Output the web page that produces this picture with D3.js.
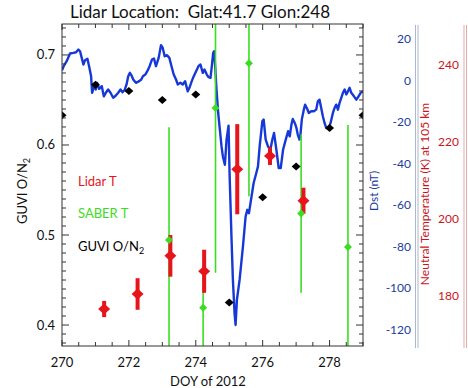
<!DOCTYPE html>
<html><head><meta charset="utf-8">
<script src="https://cdn.jsdelivr.net/npm/d3@7"></script>
<style>
body{margin:0;background:#fff;}
text{font-family:Lato,"Open Sans",sans-serif;}
</style></head>
<body><svg id="c" width="468" height="388"></svg>
<script>
// ---------- data ----------
const guviDays = [270,271,272,273,274,275,276,277,278,279];
const guviO2N2 = [0.633,0.667,0.660,0.650,0.656,0.425,0.542,0.576,0.619,0.633];

const saberDays = [273.2,274.22,274.59,275.59,277.15,278.55];
const saberT    = [194.6,177.0,228.9,240.5,201.5,192.8];
const saberErr  = [29.3,11.1,42.8,34.5,20.6,31.7];

const lidarDays = [271.26,272.26,273.24,274.25,275.24,276.22,277.22];
const lidarT    = [176.7,180.6,190.5,186.5,213.0,216.4,204.8];
const lidarErr  = [2.1,4.1,5.4,5.6,11.7,2.3,3.4];

const dstDays = [270.0,270.06,270.14,270.24,270.34,270.42,270.49,270.54,270.59,270.64,270.69,270.76,270.81,270.87,270.90,270.96,
271.01,271.05,271.11,271.19,271.25,271.31,271.38,271.45,271.53,271.61,271.68,271.75,271.81,271.88,271.93,271.98,
272.03,272.08,272.13,272.21,272.31,272.37,272.42,272.49,272.55,272.62,272.69,272.75,272.81,272.89,272.96,
273.01,273.07,273.14,273.21,273.26,273.34,273.41,273.46,273.54,273.61,273.68,273.76,273.81,273.88,273.94,
274.01,274.08,274.14,274.21,274.26,274.33,274.38,274.44,274.48,274.52,274.55,274.58,274.62,274.67,274.72,274.77,274.81,274.87,274.92,274.98,
275.01,275.07,275.11,275.16,275.19,275.23,275.31,275.41,275.49,275.54,275.59,275.66,275.73,275.81,275.86,275.91,275.99,
276.03,276.09,276.16,276.23,276.29,276.34,276.41,276.48,276.54,276.61,276.69,276.76,276.81,276.86,276.90,276.96,
277.01,277.05,277.10,277.13,277.17,277.23,277.27,277.33,277.38,277.45,277.53,277.60,277.65,277.70,277.75,277.80,277.85,277.90,277.97,
278.03,278.10,278.15,278.20,278.25,278.30,278.35,278.40,278.45,278.50,278.55,278.60,278.65,278.73,278.80,278.84,278.93,279.0];
const dstValues = [5.0,7.2,9.3,13.0,13.3,13.6,14.9,14.1,10.9,7.7,9.8,10.5,6.9,2.1,-5.9,-2.7,
-4.3,-1.1,-4.0,-2.7,-7.6,-5.9,-4.3,-5.9,-8.3,-7.2,-5.9,-4.3,-5.6,-4.3,-1.9,2.1,
3.7,2.4,0.5,-1.1,-0.3,0.5,2.1,2.9,4.5,6.9,10.1,10.6,6.9,10.9,17.0,
15.8,11.7,12.2,10.9,7.7,2.9,0.5,-1.9,-1.1,-1.9,-0.3,-5.2,-3.5,-0.3,2.1,
4.5,6.9,7.7,3.7,5.3,2.9,1.6,1.3,6.9,13.3,14.1,6.9,-4.3,-15.6,-23.6,-31.7,-36.5,-40.5,-28.4,-21.7,
-44.5,-76.6,-95.9,-112.0,-117.6,-105.5,-95.9,-79.9,-65.4,-62.2,-63.8,-56.5,-49.3,-44.5,-41.3,-31.7,-19.6,
-18.8,-28.4,-31.7,-33.3,-28.4,-25.2,-33.3,-42.1,-42.1,-33.3,-28.4,-24.4,-26.8,-21.2,-18.5,-20.4,
-22.8,-26.0,-28.4,-26.0,-18.8,-14.0,-11.6,-13.6,-15.6,-14.8,-14.8,-14.0,-10.0,-9.2,-13.2,-17.2,-20.4,-22.8,-23.3,
-20.4,-15.6,-13.2,-11.6,-14.0,-10.7,-8.3,-5.9,-4.3,-6.7,-5.2,-3.5,-5.9,-7.6,-9.2,-8.3,-5.9,-5.2];

const xTickLabels = [270,272,274,276,278];
const leftTickLabels = [0.4,0.5,0.6,0.7];
const dstTickLabels = [20,0,-20,-40,-60,-80,-100,-120];
const tempTickLabels = [180,200,220,240];
const legendItems = ["Lidar T","SABER T","GUVI O/N"];

// ---------- layout ----------
const L = 62, R = 363, T = 24, B = 346;
const svg = d3.select("#c");
const x = d3.scaleLinear().domain([270,279]).range([L,R]);
const y = d3.scaleLinear().domain([0.3767,0.7344]).range([B,T]);
const yDst = d3.scaleLinear().domain([-127.7,27.2]).range([B,T]);
const yT = d3.scaleLinear().domain([167.1,250.7]).range([B,T]);

const blue="#1638d8", green="#3ddc24", red="#e8141c", dkBlue="#1b3c9e", dkRed="#c8161e";

svg.append("clipPath").attr("id","clip").append("rect").attr("x",L).attr("y",T).attr("width",R-L).attr("height",B-T);
const g = svg.append("g").attr("clip-path","url(#clip)");

// Dst line
const dst = dstDays.map((d,i)=>[d,dstValues[i]]);
g.append("path").datum(dst).attr("fill","none").attr("stroke",blue).attr("stroke-width",2.4)
 .attr("stroke-linejoin","round")
 .attr("d",d3.line().x(d=>x(d[0])).y(d=>yDst(d[1])));

// SABER error lines + diamonds
const diamond = (cx,cy,w,h)=>`M${cx},${cy-h/2}L${cx+w/2},${cy}L${cx},${cy+h/2}L${cx-w/2},${cy}Z`;
saberDays.forEach((d,i)=>{
  g.append("line").attr("x1",x(d)).attr("x2",x(d)).attr("y1",yT(saberT[i]+saberErr[i])).attr("y2",yT(saberT[i]-saberErr[i]))
   .attr("stroke",green).attr("stroke-width",1.6);
});
// GUVI diamonds
guviDays.forEach((d,i)=>{
  g.append("path").attr("d",diamond(x(d),y(guviO2N2[i]),9,8)).attr("fill","#000");
});
// Lidar
lidarDays.forEach((d,i)=>{
  g.append("line").attr("x1",x(d)).attr("x2",x(d)).attr("y1",yT(lidarT[i]+lidarErr[i])).attr("y2",yT(lidarT[i]-lidarErr[i]))
   .attr("stroke",red).attr("stroke-width",4);
  g.append("path").attr("d",diamond(x(d),yT(lidarT[i]),12,11)).attr("fill",red);
});
saberDays.forEach((d,i)=>{
  g.append("path").attr("d",diamond(x(d),yT(saberT[i]),8,8)).attr("fill",green);
});

// frame
svg.append("rect").attr("x",L).attr("y",T).attr("width",R-L).attr("height",B-T).attr("fill","none").attr("stroke","#333").attr("stroke-width",1);

// x ticks (bottom & top)
const xMinor = d3.range(270,279.01,0.5);
xMinor.forEach(v=>{
  const len = (v%2===0)?6:4;
  svg.append("line").attr("x1",x(v)).attr("x2",x(v)).attr("y1",B).attr("y2",B-len).attr("stroke","#333");
  svg.append("line").attr("x1",x(v)).attr("x2",x(v)).attr("y1",T).attr("y2",T+len).attr("stroke","#333");
});
xTickLabels.forEach(v=>{
  svg.append("text").attr("x",x(v)).attr("y",367).attr("text-anchor","middle").attr("font-size",13).attr("fill","#111").text(v);
});
svg.append("text").attr("x",208).attr("y",386).attr("text-anchor","middle").attr("font-size",13).attr("fill","#111").text("DOY of 2012");

// y ticks left & right edge
const yMinor = d3.range(38,74).map(k=>k/100);
yMinor.forEach(v=>{
  const major = Math.abs(v*10-Math.round(v*10))<1e-6;
  const len = major?7:4;
  svg.append("line").attr("x1",L).attr("x2",L+len).attr("y1",y(v)).attr("y2",y(v)).attr("stroke","#333");
  svg.append("line").attr("x1",R).attr("x2",R-len).attr("y1",y(v)).attr("y2",y(v)).attr("stroke","#333");
});
leftTickLabels.forEach(v=>{
  svg.append("text").attr("x",55).attr("y",y(v)+4.5).attr("text-anchor","end").attr("font-size",13).attr("fill","#111").text(v.toFixed(1));
});
const yl = svg.append("text").attr("transform","translate(27,191) rotate(-90)").attr("text-anchor","middle").attr("font-size",13).attr("fill","#111");
yl.append("tspan").text("GUVI O/N");
yl.append("tspan").attr("font-size",9).attr("dy",3).text("2");

// Dst axis
[415.5,418].forEach(xx=>svg.append("line").attr("x1",xx).attr("x2",xx).attr("y1",25).attr("y2",348).attr("stroke","#aab6d2").attr("stroke-width",1));
dstTickLabels.forEach(v=>{
  svg.append("text").attr("x",411).attr("y",yDst(v)+4).attr("text-anchor","end").attr("font-size",12).attr("fill",dkBlue).text(v);
});
svg.append("text").attr("transform","translate(378,191) rotate(-90)").attr("text-anchor","middle").attr("font-size",12).attr("fill",dkBlue).text("Dst (nT)");

// Temperature axis
[464,466.5].forEach(xx=>svg.append("line").attr("x1",xx).attr("x2",xx).attr("y1",25).attr("y2",348).attr("stroke","#e3aaaa").attr("stroke-width",1));
tempTickLabels.forEach(v=>{
  svg.append("text").attr("x",459).attr("y",yT(v)+4).attr("text-anchor","end").attr("font-size",12).attr("fill",dkRed).text(v);
});
svg.append("text").attr("transform","translate(429,194) rotate(-90)").attr("text-anchor","middle").attr("font-size",12).attr("fill",dkRed).text("Neutral Temperature (K) at 105 km");

// legend
const legColors = [red,green,"#000"];
const legY = [186,218,251];
legendItems.forEach((t,i)=>{
  const tx = svg.append("text").attr("x",78).attr("y",legY[i]).attr("font-size",13).attr("fill",legColors[i]).text(t);
  if(i===2) tx.append("tspan").attr("font-size",9).attr("dy",3).text("2");
});

// title
svg.append("text").attr("x",200).attr("y",18).attr("text-anchor","middle").attr("font-size",17).attr("fill","#111")
  .attr("xml:space","preserve").style("white-space","pre").text("Lidar Location:  Glat:41.7 Glon:248");
</script></body></html>
